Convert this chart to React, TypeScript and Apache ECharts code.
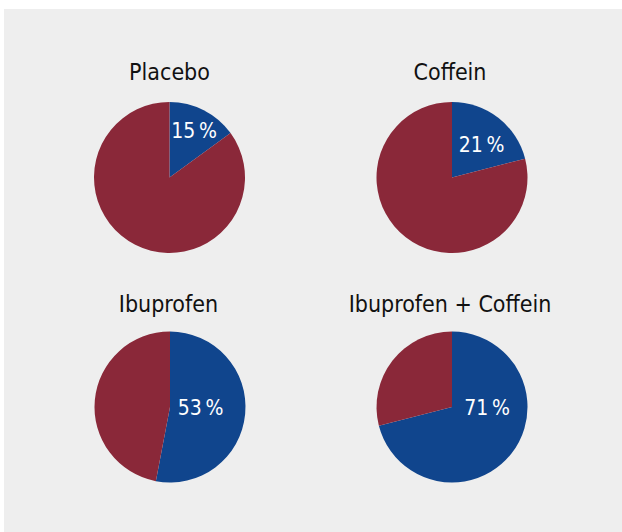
import React, { useEffect, useRef } from "react";
import * as echarts from "echarts";

const groups = ["Placebo", "Coffein", "Ibuprofen", "Ibuprofen + Coffein"];
const bluePct = [15, 21, 53, 71];
const redPct = [85, 79, 47, 29];
const labelTexts = ["15\u2009%", "21\u2009%", "53\u2009%", "71\u2009%"];

const centers = [
  [169.5, 177.5],
  [452, 177.5],
  [170, 407],
  [452, 407],
];
const labelOffsets = [
  [24.5, -47],
  [29.5, -32.5],
  [30.5, 0.5],
  [35, 1],
];
const titleY = [72, 72, 304, 304];
const titleX = [169.5, 450, 168.5, 450];

const BLUE = "#10458d";
const RED = "#8a2839";
const FONT = "'DejaVu Sans Condensed', 'DejaVu Sans', sans-serif";

export default function App() {
  const ref = useRef<HTMLDivElement>(null);
  useEffect(() => {
    document.body.style.margin = "0";
    const chart = echarts.init(ref.current!, null, { renderer: "svg" });
    const series = groups.map((g, i) => ({
      type: "pie",
      name: g,
      center: centers[i],
      radius: 75.5,
      startAngle: 90,
      clockwise: true,
      silent: true,
      label: {
        show: true,
        position: "inside",
        color: "#ffffff",
        fontSize: 21,
        fontFamily: FONT,
        formatter: () => labelTexts[i],
      },
      labelLine: { show: false },
      labelLayout: (p: any) =>
        p.dataIndex === 0
          ? { x: centers[i][0] + labelOffsets[i][0], y: centers[i][1] + labelOffsets[i][1], align: "center", verticalAlign: "middle" }
          : {},
      itemStyle: { borderWidth: 0 },
      emphasis: { disabled: true },
      data: [
        { name: "blue", value: bluePct[i], itemStyle: { color: BLUE } },
        { name: "red", value: redPct[i], itemStyle: { color: RED }, label: { show: false } },
      ],
    }));
    chart.setOption({
      animation: false,
      backgroundColor: "#ffffff",
      graphic: [
        {
          type: "rect",
          z: -10,
          shape: { x: 4, y: 9, width: 618, height: 523 },
          style: { fill: "#eeeeee" },
          silent: true,
        },
        ...groups.map((g, i) => ({
          type: "text",
          x: titleX[i],
          y: titleY[i],
          style: {
            text: g,
            fill: "#111111",
            font: `23px ${FONT}`,
            textAlign: "center",
            textVerticalAlign: "middle",
          },
        })),
      ],
      series,
    });
    return () => chart.dispose();
  }, []);
  return <div ref={ref} style={{ width: 622, height: 532 }} />;
}
